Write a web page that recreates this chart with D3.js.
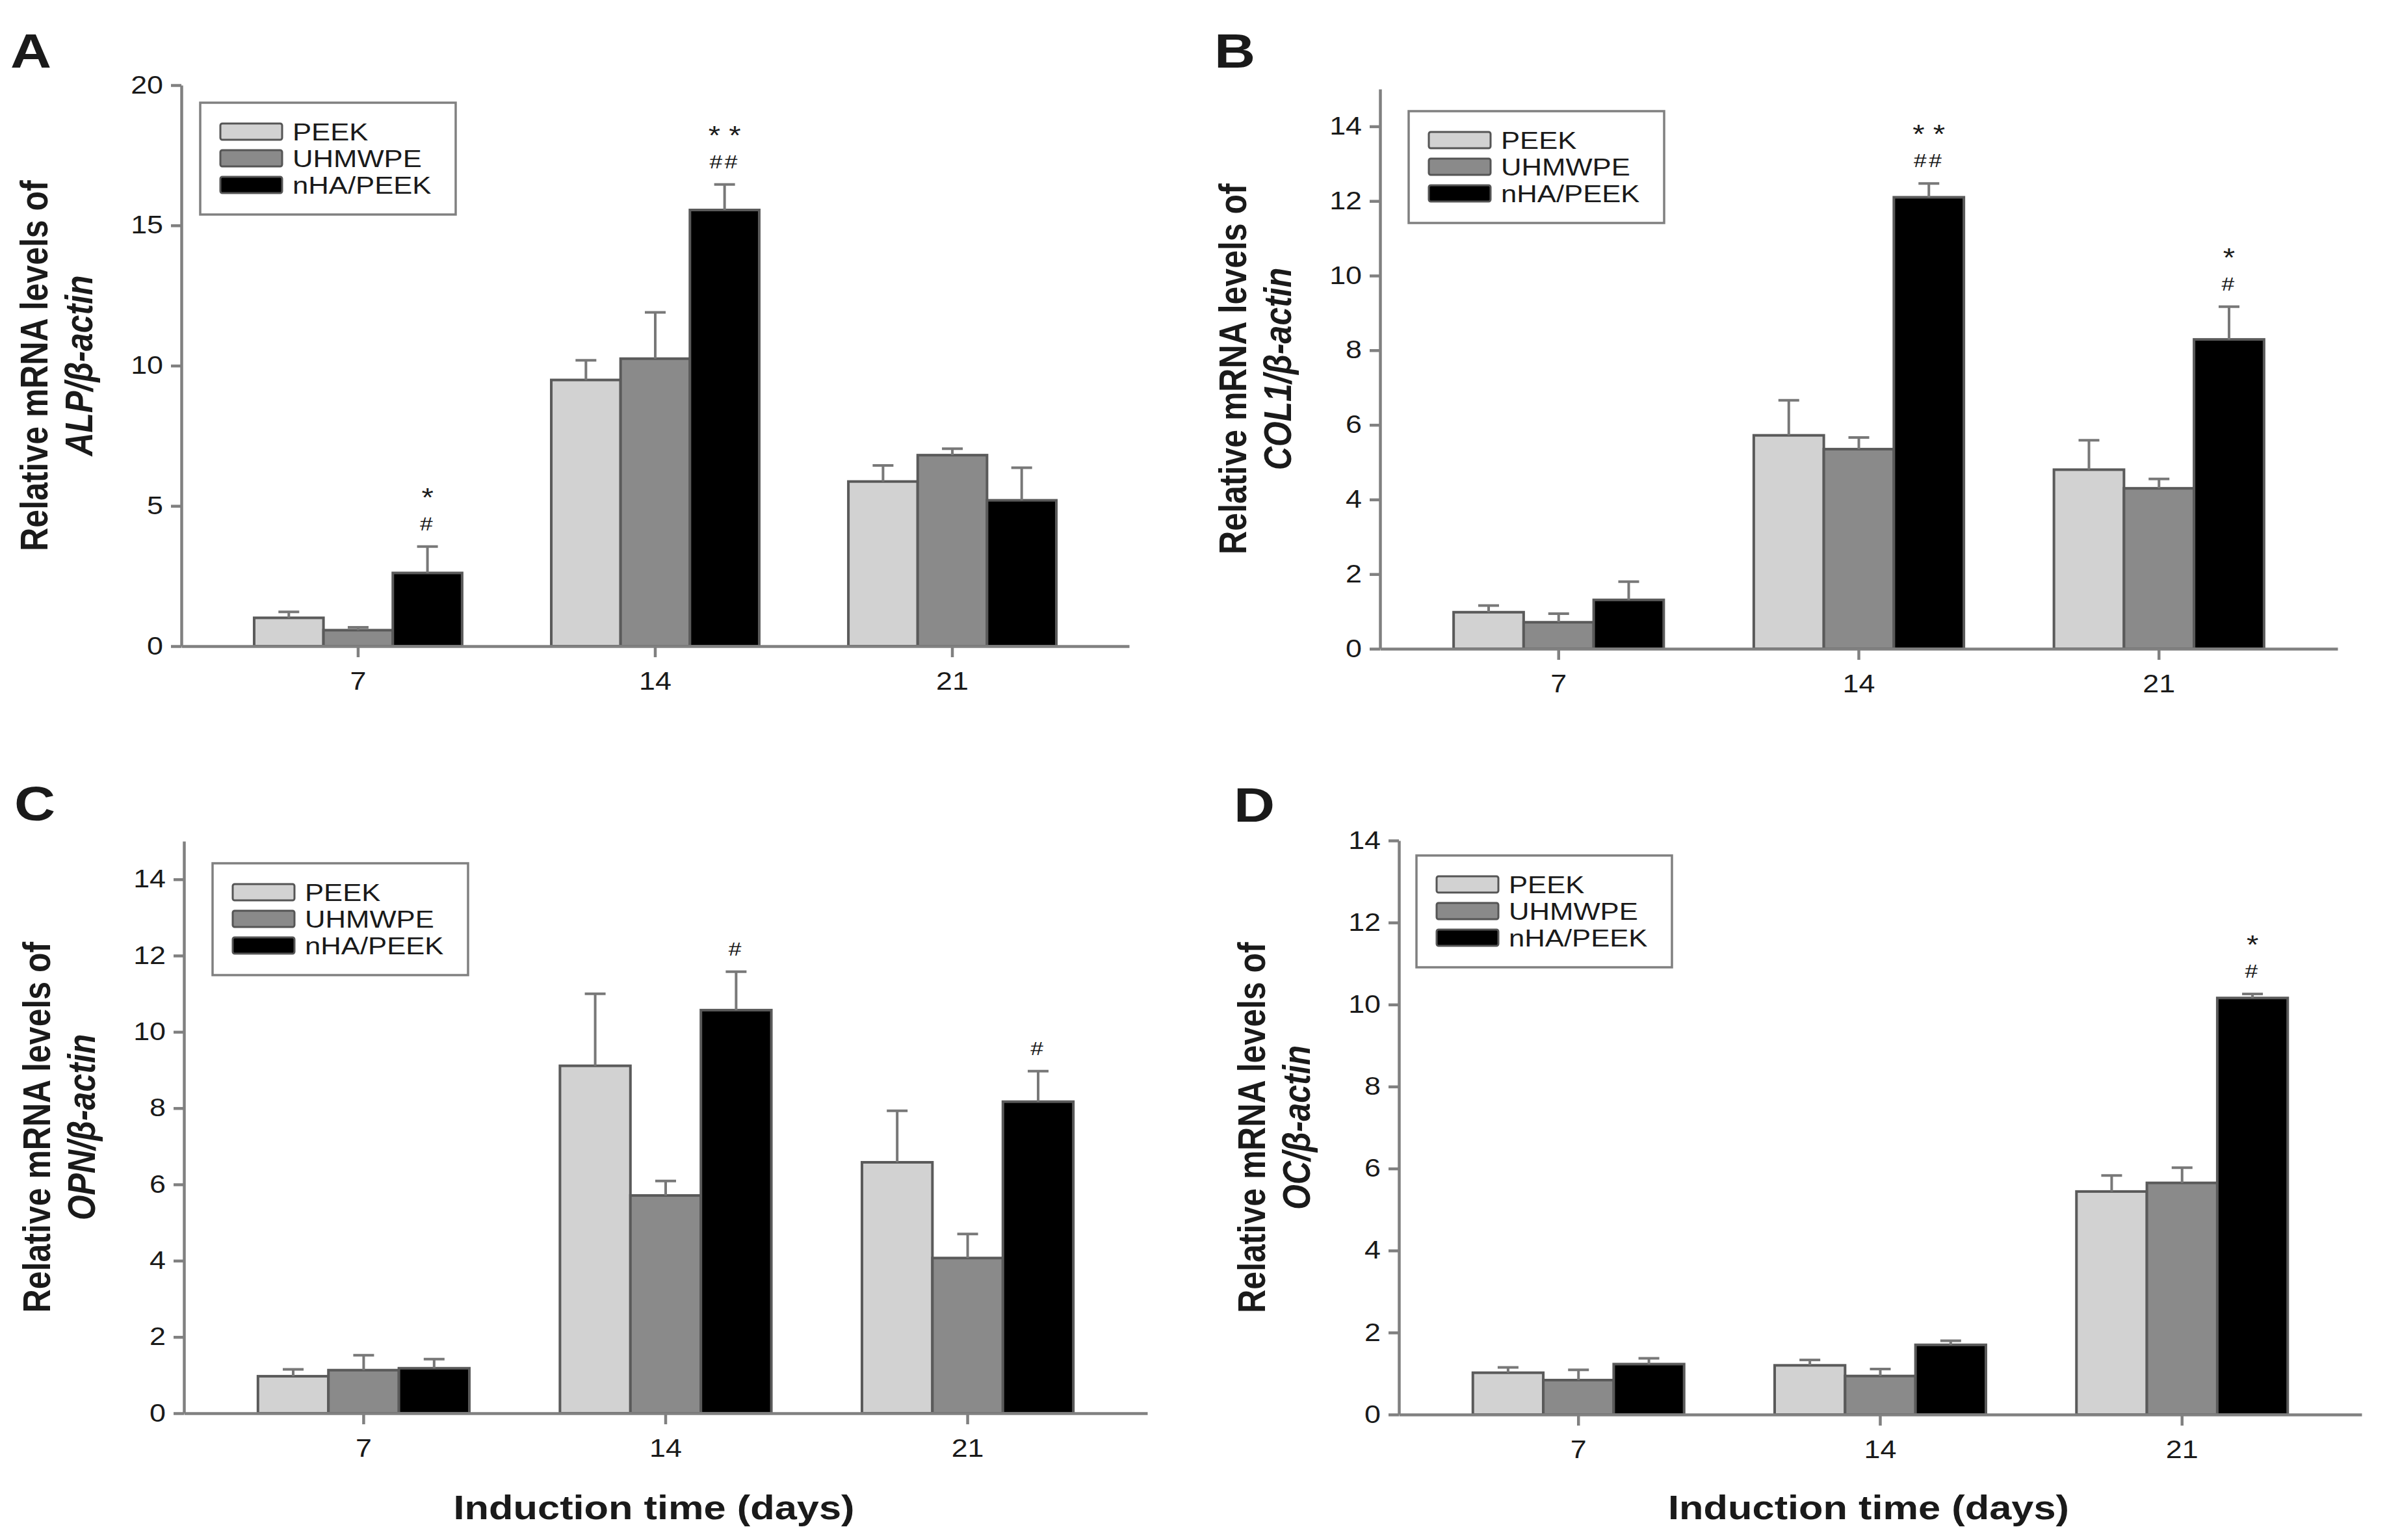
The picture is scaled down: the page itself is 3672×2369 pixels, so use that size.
<!DOCTYPE html>
<html>
<head>
<meta charset="utf-8">
<script src="https://cdn.jsdelivr.net/npm/d3@7"></script>
<style>
  body { margin: 0; background: #fff; }
  svg { display: block; }
</style>
</head>
<body>
<div id="chart"></div>
<script>
var width = 3672;
var height = 2369;

// ---- data ----
var days = ["7", "14", "21"];
var materials = ["PEEK", "UHMWPE", "nHA/PEEK"];

// rows: PEEK, UHMWPE, nHA/PEEK ; columns: day 7, 14, 21
var alpMean = [[1.01, 9.49, 5.87], [0.57, 10.25, 6.81], [2.61, 15.55, 5.20]];
var alpSD   = [[0.21, 0.70, 0.57], [0.10, 1.65, 0.23], [0.94, 0.91, 1.16]];
var col1Mean = [[0.98, 5.72, 4.80], [0.71, 5.35, 4.30], [1.31, 12.10, 8.29]];
var col1SD   = [[0.18, 0.94, 0.79], [0.23, 0.31, 0.25], [0.49, 0.37, 0.88]];
var opnMean = [[0.97, 9.11, 6.58], [1.13, 5.71, 4.07], [1.18, 10.57, 8.17]];
var opnSD   = [[0.18, 1.89, 1.35], [0.39, 0.38, 0.63], [0.24, 1.01, 0.80]];
var ocMean = [[1.02, 1.20, 5.44], [0.84, 0.94, 5.65], [1.23, 1.70, 10.16]];
var ocSD   = [[0.13, 0.13, 0.39], [0.25, 0.17, 0.37], [0.14, 0.10, 0.10]];

// significance marks on the nHA/PEEK bars, per day: [star, hash]
var alpSig  = [["*", "#"], ["* *", "##"], null];
var col1Sig = [null, ["* *", "##"], ["*", "#"]];
var opnSig  = [null, [null, "#"], [null, "#"]];
var ocSig   = [null, null, ["*", "#"]];

var ticksA = [0, 5, 10, 15, 20];
var ticksB = [0, 2, 4, 6, 8, 10, 12, 14];
var ticksC = [0, 2, 4, 6, 8, 10, 12, 14];
var ticksD = [0, 2, 4, 6, 8, 10, 12, 14];

// ---- styling / layout ----
var SX = 1.18;   // the source figure is stretched sideways
var FONT = "'Liberation Sans', Arial, Helvetica, sans-serif";
var fills = ["#d2d2d2", "#8a8a8a", "#000000"];
var axisColor = "#808080";
var textColor = "#1a1a1a";

var panels = [
  { letter: "A", gene: "ALP", mean: alpMean, sd: alpSD, sig: alpSig, ticks: ticksA, ymax: 20,
    left: 279, right: 1737, y0: 994, yTop: 131, lx: 16, ly: 104, legend: [29, 27], title: false },
  { letter: "B", gene: "COL1", mean: col1Mean, sd: col1SD, sig: col1Sig, ticks: ticksB, ymax: 15,
    left: 2123, right: 3596, y0: 998, yTop: 137, lx: 1868, ly: 104, legend: [44, 34], title: false },
  { letter: "C", gene: "OPN", mean: opnMean, sd: opnSD, sig: opnSig, ticks: ticksC, ymax: 15,
    left: 283, right: 1765, y0: 2174, yTop: 1294, lx: 22, ly: 1262, legend: [44, 34], title: true },
  { letter: "D", gene: "OC", mean: ocMean, sd: ocSD, sig: ocSig, ticks: ticksD, ymax: 14,
    left: 2152, right: 3633, y0: 2176, yTop: 1293, lx: 1898, ly: 1264, legend: [27, 23], title: true }
];

var svg = d3.select("#chart")
    .append("svg")
    .attr("width", width)
    .attr("height", height)
    .style("font-family", FONT);

svg.append("rect").attr("width", width).attr("height", height).attr("fill", "#fff");

function place(sel, x, y, rot) {
    sel.attr("transform", "translate(" + x + "," + y + ") scale(" + SX + ",1)" + (rot ? " rotate(" + rot + ")" : ""));
    return sel;
}

panels.forEach(function(p) {
    var g = svg.append("g");

    var x = d3.scaleBand().domain(days).range([p.left, p.right])
        .paddingInner(0.3).paddingOuter(0.245);
    var xs = d3.scaleBand().domain(materials).range([0, x.bandwidth()]);
    var y = d3.scaleLinear().domain([0, p.ymax]).range([p.y0, p.yTop]);

    // bars
    materials.forEach(function(m, si) {
        g.append("g")
            .selectAll("rect")
            .data(days)
            .enter()
                .append("rect")
                .attr("x", function(d){ return x(d) + xs(m); })
                .attr("y", function(d,i){ return y(p.mean[si][i]); })
                .attr("width", xs.bandwidth())
                .attr("height", function(d,i){ return y(0) - y(p.mean[si][i]); })
                .attr("fill", fills[si])
                .attr("stroke", "#5a5a5a")
                .attr("stroke-width", 4);
    });

    // error bars (upper only)
    materials.forEach(function(m, si) {
        var eg = g.append("g").attr("stroke", "#787878").attr("stroke-width", 4);
        days.forEach(function(d, i) {
            var cx = x(d) + xs(m) + xs.bandwidth() / 2;
            var top = y(p.mean[si][i] + p.sd[si][i]);
            eg.append("line").attr("x1", cx).attr("x2", cx)
                .attr("y1", y(p.mean[si][i])).attr("y2", top);
            eg.append("line").attr("x1", cx - 16).attr("x2", cx + 16)
                .attr("y1", top).attr("y2", top);
        });
    });

    // significance marks
    var last = materials.length - 1;
    days.forEach(function(d, i) {
        var s = p.sig[i];
        if (!s) return;
        var cx = x(d) + xs(materials[last]) + xs.bandwidth() / 2;
        var top = y(p.mean[last][i] + p.sd[last][i]);
        if (s[0]) {
            place(g.append("text"), cx, top - 62)
                .attr("text-anchor", "middle").attr("font-size", 40)
                .attr("fill", textColor).text(s[0]);
        }
        if (s[1]) {
            place(g.append("text"), cx, top - 25)
                .attr("text-anchor", "middle").attr("font-size", 30)
                .attr("letter-spacing", 3)
                .attr("fill", textColor).text(s[1]);
        }
    });

    // axes
    var yAxis = d3.axisLeft(y).tickValues(p.ticks).tickSize(16).tickPadding(7.7).tickSizeOuter(0);
    var xAxis = d3.axisBottom(x).tickSize(17).tickPadding(23).tickSizeOuter(0);

    [g.append("g").call(yAxis).attr("transform", "translate(" + p.left + ",0)"),
     g.append("g").call(xAxis).attr("transform", "translate(0," + p.y0 + ")")]
    .forEach(function(ax) {
        ax.attr("font-family", FONT).attr("font-size", 38);
        ax.selectAll("path, line").attr("stroke", axisColor).attr("stroke-width", 4.5);
        ax.selectAll("text").attr("fill", textColor).attr("transform", "scale(" + SX + ",1)");
    });

    // legend
    var lg = g.append("g")
        .attr("transform", "translate(" + (p.left + p.legend[0]) + "," + (p.yTop + p.legend[1]) + ")");
    lg.append("rect").attr("width", 393).attr("height", 172)
        .attr("fill", "#fff").attr("stroke", axisColor).attr("stroke-width", 3.5);
    materials.forEach(function(m, i) {
        lg.append("rect").attr("x", 31).attr("y", 32 + 41 * i)
            .attr("width", 95).attr("height", 25).attr("rx", 3)
            .attr("fill", fills[i]).attr("stroke", "#555").attr("stroke-width", 3);
        place(lg.append("text"), 142, 58 + 41 * i)
            .attr("font-size", 37).attr("fill", textColor).text(m);
    });

    // panel letter
    place(g.append("text"), p.lx, p.ly)
        .attr("font-size", 74).attr("font-weight", "bold").attr("fill", textColor)
        .text(p.letter);

    // y label
    var cy = (p.y0 + p.yTop) / 2;
    place(g.append("text"), p.left - 206, cy, -90)
        .attr("text-anchor", "middle").attr("font-size", 50).attr("font-weight", "bold")
        .attr("fill", textColor).text("Relative mRNA levels of");
    place(g.append("text"), p.left - 137, cy, -90)
        .attr("text-anchor", "middle").attr("font-size", 50).attr("font-weight", "bold")
        .attr("font-style", "italic").attr("fill", textColor)
        .text(p.gene + "/\u03b2-actin");

    // x title
    if (p.title) {
        place(g.append("text"), (p.left + p.right) / 2 - 18, 2337)
            .attr("text-anchor", "middle").attr("font-size", 52).attr("font-weight", "bold")
            .attr("fill", textColor).text("Induction time (days)");
    }
});
</script>
</body>
</html>
